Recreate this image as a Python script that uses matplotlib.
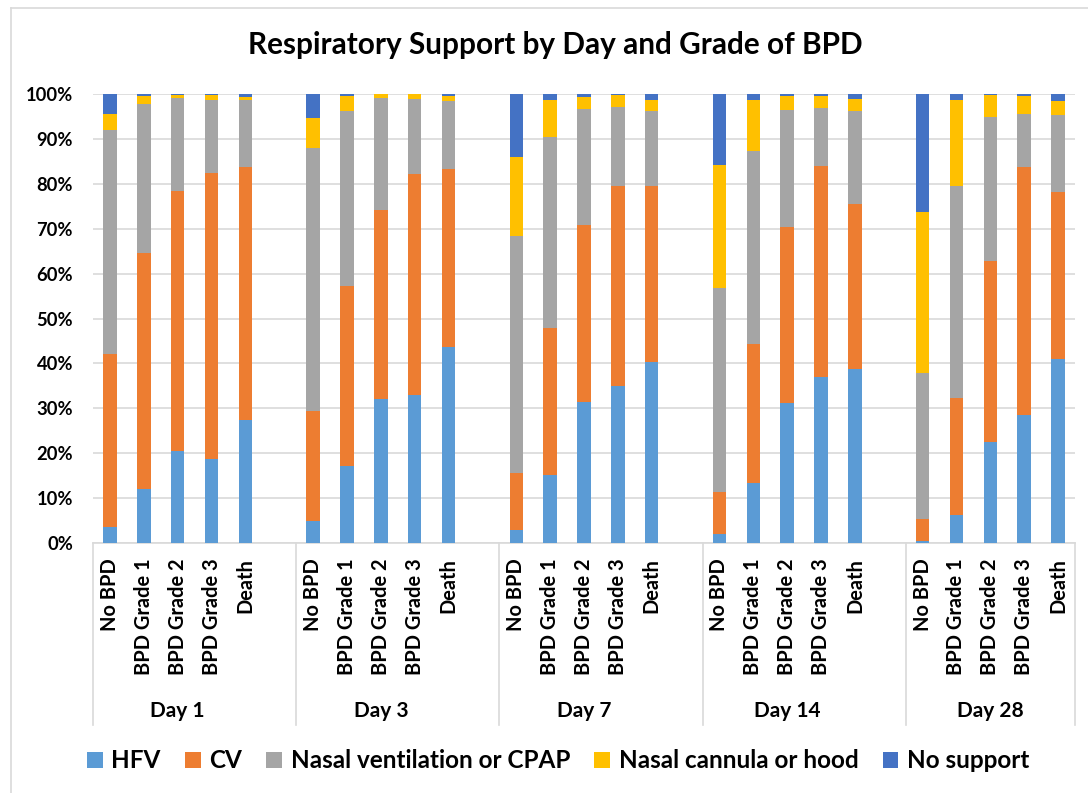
import matplotlib.pyplot as plt
from matplotlib.patches import Patch
from matplotlib.lines import Line2D
from matplotlib.ticker import PercentFormatter

plt.rcParams['font.family'] = ['Lato', 'DejaVu Sans']
plt.rcParams['font.weight'] = 'bold'

days = ['Day 1', 'Day 3', 'Day 7', 'Day 14', 'Day 28']
grades = ['No BPD', 'BPD Grade 1', 'BPD Grade 2', 'BPD Grade 3', 'Death']
series = ['HFV', 'CV', 'Nasal ventilation or CPAP', 'Nasal cannula or hood', 'No support']
colors = ['#5B9BD5', '#ED7D31', '#A5A5A5', '#FFC000', '#4472C4']

# percent per bar, order: day 1 grades..., day 3 grades..., etc.
hfv = [3.5, 12.1, 20.4, 18.7, 27.5,
       4.8, 17.1, 32.0, 32.9, 43.6,
       3.0, 15.2, 31.4, 34.9, 40.4,
       1.9, 13.3, 31.1, 37.0, 38.8,
       0.4, 6.2, 22.6, 28.4, 40.9]
cv = [38.6, 52.4, 58.1, 63.8, 56.3,
      24.7, 40.2, 42.2, 49.2, 39.7,
      12.7, 32.6, 39.5, 44.7, 39.1,
      9.5, 31.1, 39.3, 47.0, 36.8,
      4.9, 26.1, 40.2, 55.4, 37.3]
nasal_vent = [49.9, 33.2, 20.7, 16.2, 14.9,
              58.5, 39.0, 24.8, 16.7, 15.1,
              52.7, 42.7, 25.8, 17.4, 16.7,
              45.5, 42.9, 26.1, 12.8, 20.6,
              32.5, 47.1, 32.1, 11.8, 17.2]
nasal_cannula = [3.6, 1.9, 0.5, 1.1, 0.6,
                 6.7, 3.3, 1.0, 1.2, 1.2,
                 17.6, 8.2, 2.7, 2.8, 2.5,
                 27.2, 11.4, 3.1, 2.8, 2.7,
                 36.0, 19.3, 4.9, 4.0, 3.0]
no_support = [4.4, 0.4, 0.3, 0.2, 0.7,
              5.3, 0.4, 0.0, 0.0, 0.4,
              14.0, 1.3, 0.6, 0.2, 1.3,
              15.9, 1.3, 0.4, 0.4, 1.1,
              26.2, 1.3, 0.2, 0.4, 1.6]

values = [hfv, cv, nasal_vent, nasal_cannula, no_support]

fig = plt.figure(figsize=(10.88, 7.93), dpi=100)
ax = fig.add_axes([93 / 1088, 1 - 543 / 793, (1075 - 93) / 1088, 449 / 793])

# each day takes 6 slots (5 bars + 1 blank), last day has no blank
xpos = [6 * d + k + 0.5 for d in range(len(days)) for k in range(len(grades))]
bottom = [0.0] * len(xpos)
for vals, col, name in zip(values, colors, series):
    ax.bar(xpos, vals, width=0.4, bottom=bottom, color=col, label=name, zorder=3)
    bottom = [b + v for b, v in zip(bottom, vals)]

ax.set_xlim(0, 29)
ax.set_ylim(0, 100)
ax.set_yticks(range(0, 101, 10))
ax.yaxis.set_major_formatter(PercentFormatter(decimals=0))
ax.grid(axis='y', color='#d9d9d9', lw=1.2, zorder=0)
ax.set_axisbelow(True)
for s in ['top', 'right', 'left']:
    ax.spines[s].set_visible(False)
ax.spines['bottom'].set_color('#d9d9d9')
ax.spines['bottom'].set_linewidth(1.2)
ax.tick_params(axis='y', length=0, labelsize=13.2, pad=14.4)
ax.tick_params(axis='x', length=0, pad=11)
ax.set_xticks(xpos)
ax.set_xticklabels(grades * len(days), rotation=90, fontsize=14.4)

trans = ax.get_xaxis_transform()
for x in [0, 6, 12, 18, 24, 29]:
    ax.add_line(Line2D([x, x], [0, -182 / 449], transform=trans, color='#d9d9d9',
                       lw=1.2, clip_on=False))
for d, day in enumerate(days):
    ax.text(6 * d + 2.5, -168 / 449, day, transform=trans, ha='center', va='center',
            fontsize=15)

fig.text(555 / 1088, 1 - 45 / 793, 'Respiratory Support by Day and Grade of BPD',
         ha='center', va='center', fontsize=21.4)

# outer chart border
fig.add_artist(Line2D([11 / 1088, 11 / 1088], [0, 1 - 8 / 793], transform=fig.transFigure,
                      color='#d9d9d9', lw=1.2))
fig.add_artist(Line2D([11 / 1088, 1], [1 - 8 / 793, 1 - 8 / 793], transform=fig.transFigure,
                      color='#d9d9d9', lw=1.2))

handles = [Patch(facecolor=c, label=n) for c, n in zip(colors, series)]
fig.legend(handles=handles, loc='center', bbox_to_anchor=(558 / 1088, 1 - 761 / 793),
           ncol=5, frameon=False, fontsize=17.5, handlelength=0.65, handleheight=0.65,
           handletextpad=0.35, columnspacing=1.0)

fig.savefig('out.png', dpi=100)
